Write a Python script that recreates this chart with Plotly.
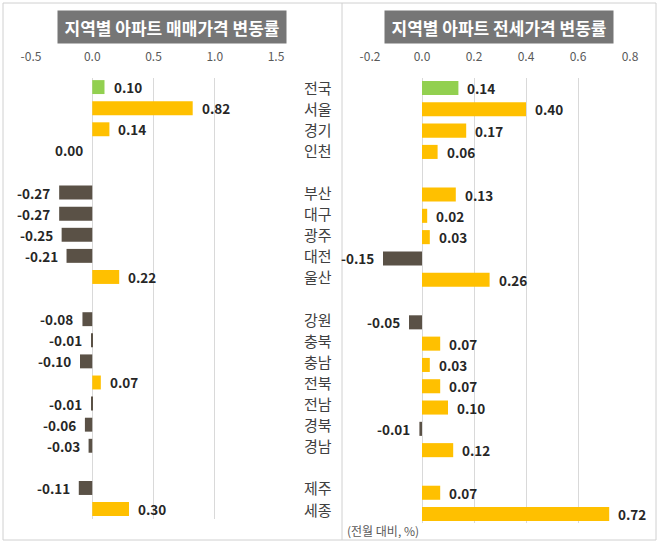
import plotly.graph_objects as go

# 지역 / 변동률 (전월 대비, %)
regions = ["전국", "서울", "경기", "인천",
           "부산", "대구", "광주", "대전", "울산",
           "강원", "충북", "충남", "전북", "전남", "경북", "경남",
           "제주", "세종"]
group_sizes = [4, 5, 7, 2]

sale = [0.10, 0.82, 0.14, 0.00,
        -0.27, -0.27, -0.25, -0.21, 0.22,
        -0.08, -0.01, -0.10, 0.07, -0.01, -0.06, -0.03,
        -0.11, 0.30]
jeonse = [0.14, 0.40, 0.17, 0.06,
          0.13, 0.02, 0.03, -0.15, 0.26,
          -0.05, 0.07, 0.03, 0.07, 0.10, -0.01, 0.12,
          0.07, 0.72]

sale_ticks = [-0.5, 0.0, 0.5, 1.0, 1.5]
jeonse_ticks = [-0.2, 0.0, 0.2, 0.4, 0.6, 0.8]

FONT = "Noto Sans CJK KR"
W, H = 658, 548
GREEN, GOLD, DARK = "#92D050", "#FFC000", "#5A5146"

# row positions with an empty row between groups
rows = []
pos = 0
for n in group_sizes:
    rows += list(range(pos, pos + n))
    pos += n + 1


def bar_colors(vals):
    out = []
    for i, v in enumerate(vals):
        if i == 0:
            out.append(GREEN)
        elif v >= 0:
            out.append(GOLD)
        else:
            out.append(DARK)
    return out


def px_x(p):
    return p / W


def px_y(p):
    return 1 - p / H


fig = go.Figure()
fig.add_trace(go.Bar(x=sale, y=rows, orientation="h", width=0.66,
                     marker=dict(color=bar_colors(sale), line=dict(width=0)),
                     xaxis="x", yaxis="y", hoverinfo="x"))
fig.add_trace(go.Bar(x=jeonse, y=rows, orientation="h", width=0.66,
                     marker=dict(color=bar_colors(jeonse), line=dict(width=0)),
                     xaxis="x2", yaxis="y2", hoverinfo="x"))

annotations = []
# value labels
for vals, xr, yr in [(sale, "x", "y"), (jeonse, "x2", "y2")]:
    for v, r in zip(vals, rows):
        annotations.append(dict(
            x=v, y=r, xref=xr, yref=yr, text=f"{v:.2f}", showarrow=False,
            xanchor="left" if v > 0 else "right", xshift=7 if v > 0 else -7,
            font=dict(family=FONT, size=13.5, color="#262626", weight="bold")))

# region names in the middle
for name, r in zip(regions, rows):
    annotations.append(dict(
        x=px_x(334), y=r, xref="paper", yref="y", text=name, showarrow=False,
        xanchor="right", font=dict(family=FONT, size=15, color="#404040")))

# panel titles
for text, cx in [("지역별 아파트 매매가격 변동률", 172), ("지역별 아파트 전세가격 변동률", 499)]:
    annotations.append(dict(
        x=px_x(cx), y=px_y(27), xref="paper", yref="paper",
        text=f"<b>{text}</b>", showarrow=False, bgcolor="#767676",
        width=226, height=30, xanchor="center", yanchor="middle",
        font=dict(family=FONT, size=17, color="white")))

annotations.append(dict(
    x=px_x(345), y=px_y(530), xref="paper", yref="paper", text="(전월 대비, %)",
    showarrow=False, xanchor="left", yanchor="middle",
    font=dict(family=FONT, size=12, color="#595959")))

axis_common = dict(side="top", showgrid=True, gridcolor="#D9D9D9", gridwidth=1,
                   zeroline=False, showline=False, ticks="",
                   ticklabelstandoff=14,
                   tickfont=dict(family=FONT, size=12, color="#595959"))

fig.update_layout(
    width=W, height=H,
    margin=dict(l=0, r=0, t=0, b=0, autoexpand=False),
    paper_bgcolor="white", plot_bgcolor="white",
    showlegend=False, barmode="overlay",
    font=dict(family=FONT),
    xaxis=dict(domain=[px_x(31), px_x(276)], range=[-0.5, 1.5], anchor="y",
               tickvals=sale_ticks, ticktext=[f"{t:.1f}" for t in sale_ticks],
               **axis_common),
    yaxis=dict(domain=[px_y(519), px_y(78)], range=[20.47, -0.43], anchor="x",
               showgrid=False, zeroline=False, showticklabels=False),
    xaxis2=dict(domain=[px_x(370), px_x(630)], range=[-0.2, 0.8], anchor="y2",
                tickvals=jeonse_ticks, ticktext=[f"{t:.1f}" for t in jeonse_ticks],
                **axis_common),
    yaxis2=dict(domain=[px_y(523), px_y(78)], range=[20.42, -0.47], anchor="x2",
                showgrid=False, zeroline=False, showticklabels=False),
    annotations=annotations,
    shapes=[
        dict(type="rect", xref="paper", yref="paper",
             x0=px_x(3), x1=px_x(656), y0=px_y(540), y1=px_y(3),
             line=dict(color="#D0D0D0", width=1)),
        dict(type="line", xref="paper", yref="paper",
             x0=px_x(342), x1=px_x(342), y0=px_y(540), y1=px_y(3),
             line=dict(color="#D0D0D0", width=1)),
    ],
)

# the page's default body margin would push the figure off the window
fig.write_html("out.html", config={"displayModeBar": False},
               post_script="document.body.style.margin = '0';")
